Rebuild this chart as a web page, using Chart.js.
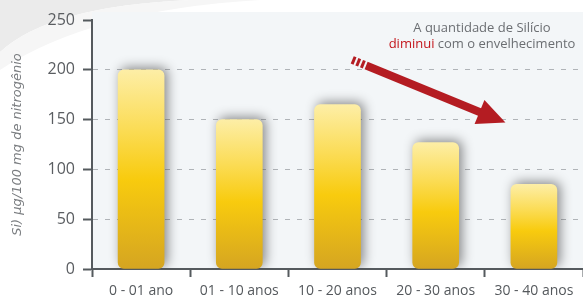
<!DOCTYPE html>
<html>
<head>
<meta charset="utf-8">
<script src="https://cdn.jsdelivr.net/npm/chart.js"></script>
<style>
  body { margin: 0; background: #fff; }
  #caixa { width: 583px; height: 300px; overflow: hidden; }
</style>
</head>
<body>
<div id="caixa"><canvas id="grafica" width="583" height="300"></canvas></div>
<script>
const faixas = ["0 - 01 ano", "01 - 10 anos", "10 - 20 anos", "20 - 30 anos", "30 - 40 anos"];
const silicio = [200, 150, 165, 127, 85];
const marcasY = [0, 50, 100, 150, 200, 250];
const tituloY = "Si) µg/100 mg de nitrogênio";
const nota1 = "A quantidade de Silício";
const nota2a = "diminui";
const nota2b = " com o envelhecimento";
// seta: do ponto (categoria, valor) ate (categoria, valor)
const setaInicio = [2.15, 210];
const setaFim = [3.71, 147];

const fonte = "'Open Sans', sans-serif";

// gradiente de cada barra, do topo da barra ate a base
function corBarra(c) {
  const chart = c.chart;
  const area = chart.chartArea;
  if (!area || c.raw === undefined) return "#f8cb0d";
  const topo = chart.scales.y.getPixelForValue(c.raw);
  const g = chart.ctx.createLinearGradient(0, topo, 0, area.bottom);
  g.addColorStop(0, "#fdeea6");
  g.addColorStop(0.3, "#fbdc55");
  g.addColorStop(0.55, "#f8cb0e");
  g.addColorStop(1, "#d5a521");
  return g;
}

const fundo = {
  id: "fundo",
  beforeDraw(chart) {
    const { ctx, chartArea } = chart;
    ctx.save();
    // canto cinza em cima a esquerda
    ctx.fillStyle = "#ebebeb";
    ctx.beginPath();
    ctx.moveTo(0, 0);
    ctx.lineTo(190, 0);
    ctx.quadraticCurveTo(50, 6, 0, 52);
    ctx.closePath();
    ctx.fill();
    ctx.fillStyle = "#f6f6f6";
    ctx.beginPath();
    ctx.moveTo(190, 0);
    ctx.lineTo(260, 0);
    ctx.quadraticCurveTo(90, 10, 0, 70);
    ctx.lineTo(0, 52);
    ctx.quadraticCurveTo(50, 6, 190, 0);
    ctx.closePath();
    ctx.fill();
    // painel
    ctx.fillStyle = "#f3f6f8";
    ctx.fillRect(chartArea.left, chartArea.top - 8, chart.width - chartArea.left, chartArea.bottom - chartArea.top + 8);
    ctx.restore();
  }
};

const sombra = {
  id: "sombra",
  beforeDatasetDraw(chart) {
    const ctx = chart.ctx;
    ctx.save();
    ctx.shadowColor = "rgba(60,60,60,0.6)";
    ctx.shadowBlur = 12;
    ctx.shadowOffsetX = 3;
    ctx.shadowOffsetY = -2;
  },
  afterDatasetDraw(chart) {
    chart.ctx.restore();
  }
};

const anotacao = {
  id: "anotacao",
  afterDraw(chart) {
    const { ctx, scales } = chart;
    const x = scales.x, y = scales.y;
    const px = v => x.left + (v + 0.5) * (x.width / faixas.length);
    const sx = px(setaInicio[0]), sy = y.getPixelForValue(setaInicio[1]);
    const tx = px(setaFim[0]), ty = y.getPixelForValue(setaFim[1]);
    const dx = tx - sx, dy = ty - sy;
    const len = Math.hypot(dx, dy);
    const ux = dx / len, uy = dy / len;
    const nx = -uy, ny = ux;
    const cab = 28, meia = 13;
    ctx.save();
    ctx.strokeStyle = "#b41c22";
    ctx.fillStyle = "#b41c22";
    ctx.lineWidth = 8;
    // listras do inicio
    for (let i = 0; i < 3; i++) {
      ctx.beginPath();
      ctx.moveTo(sx + ux * i * 5, sy + uy * i * 5);
      ctx.lineTo(sx + ux * (i * 5 + 3), sy + uy * (i * 5 + 3));
      ctx.stroke();
    }
    ctx.beginPath();
    ctx.moveTo(sx + ux * 15, sy + uy * 15);
    ctx.lineTo(tx - ux * (cab - 2), ty - uy * (cab - 2));
    ctx.stroke();
    ctx.beginPath();
    ctx.moveTo(tx, ty);
    ctx.lineTo(tx - ux * cab + nx * meia, ty - uy * cab + ny * meia);
    ctx.lineTo(tx - ux * cab - nx * meia, ty - uy * cab - ny * meia);
    ctx.closePath();
    ctx.fill();

    // texto
    ctx.font = "13px " + fonte;
    ctx.textBaseline = "middle";
    const cx = 482;
    ctx.fillStyle = "#6b6e72";
    ctx.textAlign = "center";
    ctx.fillText(nota1, cx, 28);
    const wa = ctx.measureText(nota2a).width;
    const wb = ctx.measureText(nota2b).width;
    const ini = cx - (wa + wb) / 2;
    ctx.textAlign = "left";
    ctx.fillStyle = "#c3161c";
    ctx.fillText(nota2a, ini, 44);
    ctx.fillStyle = "#6b6e72";
    ctx.fillText(nota2b, ini + wa, 44);
    ctx.restore();
  }
};

new Chart(document.getElementById("grafica"), {
  type: "bar",
  data: {
    labels: faixas,
    datasets: [{
      data: silicio,
      backgroundColor: corBarra,
      borderRadius: 6,
      borderSkipped: false,
      barThickness: 46
    }]
  },
  options: {
    responsive: false,
    animation: false,
    layout: { padding: { top: 20, right: 0, left: 0, bottom: 0 } },
    plugins: { legend: { display: false }, tooltip: { enabled: false } },
    scales: {
      x: {
        offset: true,
        afterFit(s) { s.height = 31; },
        grid: {
          offset: true,
          drawOnChartArea: false,
          drawTicks: true,
          tickLength: 8,
          tickColor: "#555a5e",
          tickWidth: 2
        },
        border: { display: true, color: "#555a5e", width: 2 },
        ticks: { color: "#55595d", font: { size: 14, family: fonte }, padding: 6 }
      },
      y: {
        min: marcasY[0],
        max: marcasY[marcasY.length - 1],
        afterFit(s) { s.width = 92; },
        afterBuildTicks(s) { s.ticks = marcasY.map(v => ({ value: v })); },
        grid: {
          color: c => (c.tick && (c.tick.value === marcasY[0] || c.tick.value === marcasY[marcasY.length - 1])) ? "rgba(0,0,0,0)" : "#b0b4b8",
          lineWidth: 1,
          drawTicks: true,
          tickLength: 9,
          tickColor: "#555a5e",
          tickWidth: 2
        },
        border: { display: true, color: "#555a5e", width: 2, dash: [5, 7] },
        ticks: { color: "#5a5d61", font: { size: 16, family: fonte }, padding: 8 },
        title: {
          display: true,
          text: tituloY,
          color: "#7a7d80",
          font: { size: 13, style: "italic", family: "'DejaVu Sans', sans-serif" },
          padding: { top: 10, bottom: 0 }
        }
      }
    }
  },
  plugins: [fundo, sombra, anotacao]
});
</script>
</body>
</html>
